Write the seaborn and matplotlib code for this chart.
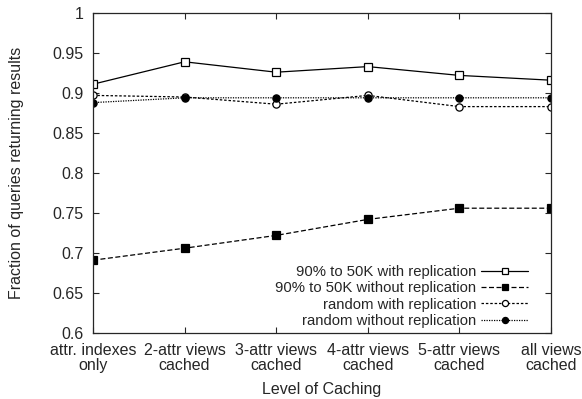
import matplotlib
matplotlib.use("Agg")
import matplotlib.pyplot as plt
import seaborn as sns
import pandas as pd

categories = ["attr. indexes\nonly", "2-attr views\ncached", "3-attr views\ncached",
              "4-attr views\ncached", "5-attr views\ncached", "all views\ncached"]
s_50k_rep = [0.911, 0.939, 0.926, 0.933, 0.922, 0.916]
s_50k_norep = [0.691, 0.706, 0.722, 0.742, 0.756, 0.756]
s_rand_rep = [0.897, 0.895, 0.886, 0.897, 0.883, 0.883]
s_rand_norep = [0.888, 0.894, 0.894, 0.894, 0.894, 0.894]
series_names = ["90% to 50K with replication", "90% to 50K without replication",
                "random with replication", "random without replication"]
y_ticks = [0.6, 0.65, 0.7, 0.75, 0.8, 0.85, 0.9, 0.95, 1.0]
y_tick_labels = ["0.6", "0.65", "0.7", "0.75", "0.8", "0.85", "0.9", "0.95", "1"]

sns.set_style("ticks")
plt.rcParams["font.family"] = ["Liberation Sans", "DejaVu Sans"]

fig = plt.figure(figsize=(5.82, 3.99), dpi=100)
ax = fig.add_axes([93/582, 1 - 333/399, (551-93)/582, (333-13)/399])

styles = [
    dict(linestyle="-", marker="s", mfc="white", mec="black", ms=5.2),
    dict(linestyle=(0, (4, 2)), marker="s", mfc="black", mec="black", ms=5.2),
    dict(linestyle=(0, (2, 1.5)), marker="o", mfc="white", mec="black", ms=5.2),
    dict(linestyle=(0, (1, 1)), marker="o", mfc="black", mec="black", ms=5.2),
]
x = list(range(len(categories)))
for name, vals, st in zip(series_names, [s_50k_rep, s_50k_norep, s_rand_rep, s_rand_norep], styles):
    df = pd.DataFrame({"x": x, "y": vals})
    sns.lineplot(data=df, x="x", y="y", ax=ax, color="black", linewidth=0.9,
                 label=name, markeredgewidth=0.9, **st)

fs = 11.5
lfs = 10.7
ax.set_xlim(0, 5)
ax.set_ylim(0.6, 1.0)
ax.set_xticks(x)
ax.set_xticklabels(categories, fontsize=fs, linespacing=1.05)
ax.set_yticks(y_ticks)
ax.set_yticklabels(y_tick_labels, fontsize=fs)
ax.tick_params(direction="in", top=True, right=True, length=4, width=0.8)
ax.tick_params(axis="x", pad=7)
ax.tick_params(axis="y", pad=7)
for sp in ax.spines.values():
    sp.set_linewidth(0.9)
ax.set_xlabel("Level of Caching", fontsize=fs, labelpad=6)
ax.set_ylabel("Fraction of queries returning results", fontsize=fs, labelpad=20)

leg = ax.legend(loc="lower right", bbox_to_anchor=(0.962, 0.0), frameon=False,
                markerfirst=False, fontsize=lfs,
                handlelength=3.2, handletextpad=0.3, labelspacing=0.15,
                borderaxespad=0.0, markerscale=0.85, borderpad=0.35)
for t in leg.get_texts():
    t.set_ha("right")
leg._legend_box.align = "right"

fig.savefig("out.png", dpi=100)
